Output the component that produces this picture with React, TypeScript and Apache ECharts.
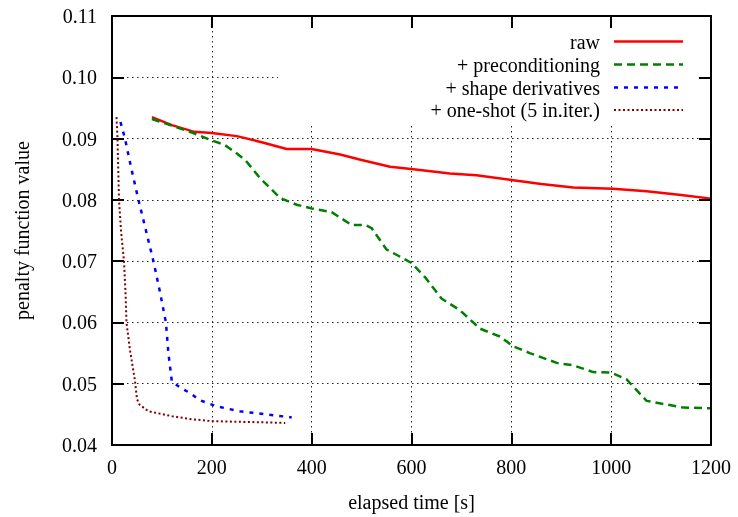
import React, { useEffect, useRef } from "react";
import * as echarts from "echarts";

const xTicks = [0, 200, 400, 600, 800, 1000, 1200];
const yTicks = [0.04, 0.05, 0.06, 0.07, 0.08, 0.09, 0.1, 0.11];

const seriesNames = [
  "raw",
  "+ preconditioning",
  "+ shape derivatives",
  "+ one-shot (5 in.iter.)",
];

const rawData: [number, number][] = [
  [80, 0.0935], [120, 0.0922], [165, 0.0911], [200, 0.0909], [250, 0.0904],
  [300, 0.0894], [350, 0.0883], [400, 0.0883], [457, 0.0874], [500, 0.0865],
  [557, 0.0854], [604, 0.0850], [677, 0.0843], [730, 0.0840], [804, 0.0832],
  [860, 0.0826], [924, 0.0820], [1004, 0.0818], [1071, 0.0814], [1140, 0.0808],
  [1200, 0.0802],
];

const precondData: [number, number][] = [
  [80, 0.0932], [120, 0.0921], [163, 0.0909], [200, 0.0897], [225, 0.0890],
  [248, 0.0877], [268, 0.0864], [297, 0.0835], [337, 0.0803], [370, 0.0792],
  [400, 0.0786], [440, 0.0780], [480, 0.0759], [507, 0.0759], [520, 0.0754],
  [550, 0.0719], [580, 0.0706], [600, 0.0697], [628, 0.0673], [660, 0.0639],
  [697, 0.0620], [737, 0.0590], [777, 0.0577], [804, 0.0561], [837, 0.0550],
  [891, 0.0534], [924, 0.0530], [964, 0.0519], [1000, 0.0518], [1031, 0.0507],
  [1071, 0.0472], [1145, 0.0461], [1200, 0.0460],
];

const shapeData: [number, number][] = [
  [17, 0.0927], [26, 0.0900], [39, 0.0850], [53, 0.0800], [68, 0.0750],
  [83, 0.0700], [96, 0.0650], [108, 0.0600], [113, 0.0550], [120, 0.0503],
  [140, 0.0492], [156, 0.0485], [176, 0.0473], [210, 0.0463], [256, 0.0455],
  [310, 0.0450], [360, 0.0445],
];

const oneShotData: [number, number][] = [
  [9, 0.0935], [11, 0.0900], [14, 0.0800], [18, 0.0750], [24, 0.0700],
  [27, 0.0650], [29, 0.0600], [36, 0.0555], [46, 0.0505], [50, 0.0475],
  [55, 0.0466], [73, 0.0455], [120, 0.0447], [160, 0.0442], [200, 0.0439],
  [243, 0.0438], [300, 0.0437], [347, 0.0436],
];

const colors = ["#ff0000", "#008000", "#0000ff", "#800000"];
const dashes: any[] = ["solid", [8, 5], [4, 6], [2, 2.5]];
const widths = [2.5, 2.5, 2.5, 2];
const allData = [rawData, precondData, shapeData, oneShotData];

const FONT = "Liberation Serif";

export default function App() {
  const ref = useRef<HTMLDivElement>(null);
  useEffect(() => {
    if (!ref.current) return;
    const chart = echarts.init(ref.current, null, { renderer: "svg" });
    const gridLeft = 112;
    const gridTop = 16;
    const gridRight = 27;
    const gridBottom = 68;

    const mkAxisLine = () => ({ show: true, onZero: false, lineStyle: { color: "#000", width: 2 } });
    const mkTick = () => ({ show: true, inside: true, length: 12, lineStyle: { color: "#000", width: 2 } });
    const mkSplit = () => ({ show: true, lineStyle: { color: "#222", width: 1, type: [1.5, 3.5] as any } });

    const legendGraphics: any[] = [];
    const rowY = [41.5, 64.5, 87.5, 110];
    seriesNames.forEach((n, i) => {
      legendGraphics.push({
        type: "text",
        z: 5,
        x: 600,
        y: rowY[i],
        style: {
          text: n,
          fill: "#000",
          fontFamily: FONT,
          fontSize: 20,
          textAlign: "right",
          textVerticalAlign: "middle",
        },
      });
      legendGraphics.push({
        type: "line",
        z: 5,
        shape: { x1: 614, y1: rowY[i], x2: 683, y2: rowY[i] },
        style: {
          stroke: colors[i],
          lineWidth: widths[i],
          lineDash: dashes[i] === "solid" ? null : dashes[i],
        },
      });
    });

    chart.setOption({
      animation: false,
      grid: { left: gridLeft, top: gridTop, right: gridRight, bottom: gridBottom },
      xAxis: [
        {
          type: "value",
          min: xTicks[0],
          max: xTicks[xTicks.length - 1],
          interval: 200,
          position: "bottom",
          name: "elapsed time [s]",
          nameLocation: "middle",
          nameGap: 47,
          nameTextStyle: { fontFamily: FONT, fontSize: 20, color: "#000" },
          axisLine: mkAxisLine(),
          axisTick: mkTick(),
          splitLine: mkSplit(),
          axisLabel: {
            fontFamily: FONT,
            fontSize: 20,
            color: "#000",
            margin: 12,
            formatter: (v: number) => String(v),
          },
        },
        {
          type: "value",
          min: xTicks[0],
          max: xTicks[xTicks.length - 1],
          interval: 200,
          position: "top",
          z: 4,
          axisLine: mkAxisLine(),
          axisTick: mkTick(),
          splitLine: { show: false },
          axisLabel: { show: false },
        },
      ],
      yAxis: [
        {
          type: "value",
          min: yTicks[0],
          max: yTicks[yTicks.length - 1],
          interval: 0.01,
          position: "left",
          name: "penalty function value",
          nameLocation: "middle",
          nameGap: 80,
          nameTextStyle: { fontFamily: FONT, fontSize: 20, color: "#000" },
          axisLine: mkAxisLine(),
          axisTick: mkTick(),
          splitLine: mkSplit(),
          axisLabel: {
            fontFamily: FONT,
            fontSize: 20,
            color: "#000",
            margin: 15,
            formatter: (v: number) => v.toFixed(2),
          },
        },
        {
          type: "value",
          min: yTicks[0],
          max: yTicks[yTicks.length - 1],
          interval: 0.01,
          position: "right",
          z: 4,
          axisLine: mkAxisLine(),
          axisTick: mkTick(),
          splitLine: { show: false },
          axisLabel: { show: false },
        },
      ],
      graphic: [
        {
          type: "rect",
          z: 1,
          shape: { x: 278, y: 18, width: 431, height: 106 },
          style: { fill: "#fff" },
        },
        ...legendGraphics,
      ],
      series: allData.map((d, i) => ({
        type: "line",
        name: seriesNames[i],
        data: d,
        showSymbol: false,
        symbol: "none",
        z: 3,
        lineStyle: { color: colors[i], width: widths[i], type: dashes[i] },
        itemStyle: { color: colors[i] },
      })),
    });
    return () => chart.dispose();
  }, []);
  return (
    <>
      <style>{`#chartbox svg text { font-family: "Liberation Serif", "Times New Roman", serif !important; }`}</style>
      <div
        id="chartbox"
        ref={ref}
        style={{ position: "fixed", left: 0, top: 0, width: 738, height: 517 }}
      />
    </>
  );
}
